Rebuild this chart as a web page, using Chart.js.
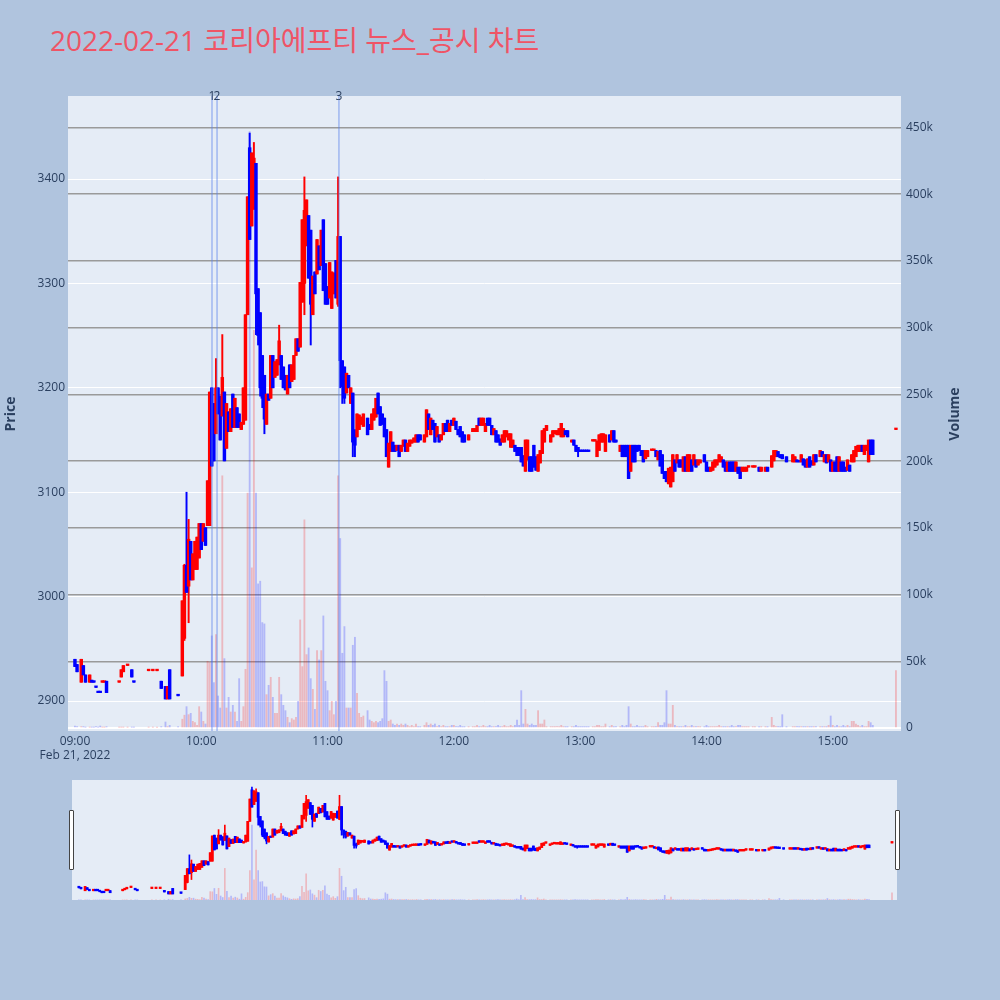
<!DOCTYPE html>
<html><head><meta charset="utf-8">
<script src="https://cdn.jsdelivr.net/npm/chart.js@4.4.1/dist/chart.umd.min.js"></script>
<style>
html,body{margin:0;padding:0;background:#B0C4DE;width:1000px;height:1000px;overflow:hidden;font-family:"Open Sans","Noto Sans CJK KR",sans-serif;}
#title{position:absolute;left:50px;top:22px;font-size:28px;line-height:36px;color:#EF5466;white-space:nowrap;}
#main{position:absolute;left:0;top:0;}
#slider{position:absolute;left:72px;top:780px;background:#E5ECF6;}
.ytitle{position:absolute;width:80px;height:20px;line-height:20px;text-align:center;font-size:14px;font-weight:bold;color:#2a3f5f;transform:rotate(-90deg);white-space:nowrap;}
.handle{position:absolute;width:3px;height:58px;background:#fff;border:1px solid #444;border-radius:1px;}
</style></head>
<body>
<div id="title">2022-02-21 코리아에프티 뉴스_공시 차트</div>
<canvas id="main" width="1000" height="800"></canvas>
<canvas id="slider" width="825" height="120"></canvas>
<div class="ytitle" style="left:-30px;top:404px;">Price</div>
<div class="ytitle" style="left:914px;top:404px;">Volume</div>
<div class="handle" style="left:69px;top:810px"></div>
<div class="handle" style="left:895px;top:810px"></div>
<script>
// minutes after 09:00
const minutes = [
 0,1,3,4,5,7,8,9,10,11,
 12,13,14,15,21,22,23,25,27,28,
 35,37,39,41,43,44,45,49,51,52,
 53,54,55,56,57,58,59,60,61,62,
 63,64,65,66,67,68,69,70,71,72,
 73,74,75,76,77,78,79,80,81,82,
 83,84,85,86,87,88,89,90,91,92,
 93,94,95,96,97,98,99,100,101,102,
 103,104,105,106,107,108,109,110,111,112,
 113,114,115,116,117,118,119,120,121,122,
 123,124,125,126,127,128,129,130,131,132,
 133,134,135,136,137,139,140,141,142,143,
 144,145,146,147,148,149,150,151,152,153,
 154,155,156,157,158,159,160,161,162,163,
 164,166,167,168,169,170,171,172,173,174,
 175,176,177,178,179,180,181,182,183,184,
 185,187,189,190,191,192,193,194,195,196,
 197,198,199,200,201,202,203,204,205,206,
 207,208,209,210,211,212,213,214,215,216,
 217,218,219,220,221,222,223,224,226,227,
 228,229,230,231,232,233,234,236,237,238,
 239,240,241,242,243,244,246,247,248,249,
 250,251,252,254,255,256,257,259,260,261,
 262,263,264,265,266,267,268,269,270,271,
 272,274,275,276,277,278,279,280,281,282,
 283,284,285,286,287,288,289,290,291,292,
 293,294,295,296,297,299,300,301,302,303,
 304,305,306,307,308,309,310,311,312,313,
 314,315,316,317,318,319,320,322,323,325,
 326,328,329,331,332,333,334,335,336,338,
 341,342,343,344,345,346,347,348,349,350,
 351,352,354,355,356,357,358,359,360,361,
 362,363,364,365,366,367,368,369,370,371,
 372,373,374,375,376,377,378,379,390
];
const opens = [
 2940,2935,2918,2934,2925,2918,2920,2918,2913,2908,
 2908,2918,2918,2919,2918,2923,2928,2934,2930,2918,
 2929,2929,2929,2919,2914,2902,2930,2906,2924,2960,
 3030,3010,3053,3016,3026,3026,3037,3070,3053,3066,
 3068,3068,3200,3185,3156,3200,3192,3173,3196,3142,
 3177,3158,3194,3162,3181,3175,3160,3165,3169,3270,
 3430,3355,3371,3415,3295,3272,3231,3212,3165,3194,
 3190,3231,3210,3212,3222,3231,3220,3212,3194,3222,
 3206,3208,3231,3247,3239,3282,3300,3336,3365,3351,
 3270,3311,3309,3336,3317,3361,3319,3297,3286,3276,
 3290,3322,3280,3345,3226,3220,3195,3212,3185,3195,
 3155,3153,3160,3165,3163,3171,3165,3160,3169,3172,
 3195,3182,3175,3171,3160,3124,3139,3148,3145,3140,
 3145,3139,3144,3150,3139,3144,3147,3148,3148,3155,
 3155,3148,3153,3175,3155,3169,3166,3153,3155,3150,
 3155,3166,3169,3158,3169,3164,3168,3160,3163,3158,
 3155,3150,3158,3158,3158,3171,3164,3164,3158,3171,
 3171,3164,3155,3159,3155,3151,3148,3148,3153,3150,
 3143,3143,3145,3143,3143,3143,3135,3120,3131,3134,
 3134,3145,3134,3120,3128,3137,3148,3159,3148,3153,
 3156,3155,3155,3153,3153,3159,3159,3148,3150,3145,
 3143,3139,3139,3139,3139,3139,3149,3149,3134,3140,
 3148,3148,3139,3155,3150,3159,3150,3139,3145,3145,
 3145,3145,3120,3145,3145,3145,3145,3140,3140,3132,
 3134,3140,3140,3140,3131,3140,3136,3120,3120,3108,
 3105,3110,3131,3128,3131,3131,3120,3134,3120,3120,
 3131,3126,3131,3126,3128,3136,3129,3124,3120,3121,
 3124,3126,3129,3129,3131,3129,3120,3129,3129,3129,
 3120,3124,3124,3120,3120,3120,3124,3124,3124,3124,
 3120,3120,3124,3124,3130,3134,3139,3136,3136,3134,
 3129,3129,3131,3130,3129,3132,3131,3124,3134,3130,
 3126,3136,3134,3139,3129,3136,3129,3131,3120,3129,
 3134,3120,3129,3129,3124,3121,3126,3129,3129,3134,
 3139,3139,3145,3136,3140,3129,3150,3150,3160
];
const highs = [
 2940,2935,2940,2934,2925,2925,2920,2918,2913,2908,
 2908,2918,2918,2919,2918,2930,2934,2934,2930,2918,
 2929,2929,2929,2919,2914,2914,2930,2906,2996,3031,
 3100,3074,3053,3041,3053,3057,3070,3070,3070,3066,
 3111,3196,3200,3185,3228,3200,3192,3251,3196,3185,
 3177,3180,3194,3190,3181,3175,3167,3200,3270,3383,
 3444,3425,3435,3415,3295,3272,3231,3212,3194,3194,
 3231,3231,3225,3227,3260,3231,3220,3212,3212,3222,
 3222,3231,3247,3247,3301,3361,3402,3380,3365,3351,
 3307,3311,3342,3336,3351,3361,3319,3297,3320,3311,
 3310,3322,3402,3345,3226,3220,3214,3212,3200,3195,
 3160,3175,3174,3172,3175,3171,3165,3175,3180,3190,
 3195,3182,3175,3171,3160,3147,3158,3148,3145,3145,
 3145,3145,3150,3150,3147,3150,3150,3152,3155,3155,
 3155,3155,3179,3175,3171,3169,3166,3163,3155,3155,
 3166,3166,3169,3166,3169,3171,3168,3160,3163,3158,
 3155,3155,3161,3161,3164,3171,3171,3171,3166,3171,
 3171,3164,3161,3159,3155,3151,3155,3159,3159,3156,
 3156,3150,3145,3143,3143,3143,3135,3150,3150,3134,
 3134,3145,3134,3136,3140,3159,3161,3164,3155,3159,
 3159,3159,3161,3166,3161,3159,3159,3150,3150,3145,
 3143,3139,3139,3139,3139,3139,3149,3149,3149,3155,
 3156,3156,3155,3155,3159,3159,3150,3145,3145,3145,
 3145,3145,3145,3145,3145,3145,3145,3140,3140,3140,
 3140,3140,3140,3140,3139,3140,3136,3120,3120,3123,
 3124,3136,3131,3136,3131,3131,3134,3134,3136,3136,
 3131,3136,3131,3131,3131,3136,3129,3124,3124,3129,
 3131,3131,3136,3134,3131,3129,3129,3129,3129,3129,
 3129,3124,3124,3124,3124,3124,3124,3124,3124,3124,
 3124,3124,3124,3135,3140,3140,3139,3136,3136,3134,
 3136,3134,3131,3130,3136,3132,3131,3132,3134,3130,
 3136,3136,3140,3139,3136,3136,3136,3131,3129,3129,
 3134,3134,3129,3129,3124,3131,3126,3136,3140,3144,
 3145,3145,3145,3145,3145,3150,3150,3150,3160
];
const lows = [
 2933,2928,2918,2925,2918,2918,2918,2918,2913,2908,
 2908,2918,2918,2908,2918,2923,2928,2934,2923,2918,
 2929,2929,2929,2912,2902,2902,2902,2905,2924,2958,
 3004,2975,3016,3016,3026,3026,3037,3045,3053,3049,
 3068,3068,3125,3130,3156,3175,3150,3173,3130,3142,
 3158,3158,3162,3162,3162,3162,3160,3165,3169,3270,
 3342,3355,3371,3251,3241,3192,3181,3156,3165,3188,
 3190,3200,3210,3212,3222,3208,3200,3198,3194,3200,
 3206,3208,3231,3235,3239,3282,3270,3336,3305,3241,
 3270,3290,3309,3313,3317,3293,3280,3280,3286,3276,
 3290,3286,3278,3200,3185,3185,3195,3200,3185,3134,
 3134,3153,3160,3165,3163,3155,3160,3160,3169,3172,
 3175,3164,3165,3153,3134,3124,3139,3139,3139,3140,
 3134,3139,3144,3139,3139,3144,3147,3148,3148,3148,
 3150,3148,3153,3160,3155,3160,3148,3153,3148,3150,
 3155,3158,3158,3158,3164,3164,3160,3155,3153,3148,
 3148,3150,3158,3158,3158,3164,3164,3164,3158,3164,
 3164,3155,3155,3148,3148,3145,3148,3148,3153,3150,
 3143,3143,3139,3135,3135,3129,3125,3120,3131,3120,
 3120,3124,3121,3120,3128,3137,3148,3159,3148,3153,
 3156,3155,3155,3153,3153,3155,3153,3148,3145,3139,
 3134,3139,3139,3139,3139,3139,3149,3149,3134,3140,
 3148,3148,3139,3148,3150,3148,3148,3139,3134,3134,
 3134,3113,3120,3129,3129,3139,3140,3135,3129,3132,
 3134,3140,3140,3134,3131,3125,3118,3113,3110,3108,
 3105,3110,3120,3128,3124,3124,3120,3120,3120,3120,
 3120,3126,3124,3126,3128,3129,3120,3120,3120,3121,
 3124,3126,3129,3129,3124,3120,3120,3120,3120,3120,
 3120,3118,3113,3120,3120,3120,3124,3124,3124,3120,
 3120,3120,3120,3124,3130,3134,3134,3133,3132,3129,
 3129,3129,3129,3129,3129,3126,3124,3124,3124,3126,
 3126,3129,3134,3134,3129,3128,3129,3120,3120,3120,
 3120,3120,3120,3120,3120,3121,3120,3129,3129,3134,
 3139,3139,3139,3136,3140,3129,3136,3136,3160
];
const closes = [
 2933,2928,2940,2925,2918,2925,2918,2918,2913,2908,
 2908,2918,2918,2908,2918,2930,2934,2934,2923,2918,
 2929,2929,2929,2912,2902,2914,2902,2905,2996,3030,
 3004,3055,3016,3041,3053,3057,3070,3045,3070,3049,
 3111,3196,3125,3130,3200,3175,3150,3210,3130,3185,
 3158,3180,3162,3190,3162,3162,3167,3200,3270,3383,
 3342,3425,3420,3290,3250,3200,3190,3170,3194,3188,
 3231,3200,3225,3227,3245,3208,3200,3198,3212,3200,
 3222,3231,3247,3235,3301,3361,3370,3380,3305,3280,
 3307,3290,3342,3313,3351,3293,3280,3280,3320,3311,
 3310,3286,3345,3226,3201,3190,3214,3200,3200,3148,
 3145,3175,3174,3172,3175,3155,3160,3175,3180,3190,
 3175,3164,3165,3153,3134,3147,3158,3139,3139,3145,
 3134,3145,3150,3139,3147,3150,3150,3152,3155,3148,
 3150,3155,3179,3160,3171,3160,3148,3163,3148,3155,
 3166,3158,3158,3166,3164,3171,3160,3155,3153,3148,
 3148,3155,3161,3161,3164,3164,3171,3171,3166,3164,
 3164,3155,3161,3148,3148,3145,3155,3159,3159,3156,
 3156,3150,3139,3135,3135,3129,3125,3150,3150,3120,
 3120,3124,3121,3136,3140,3159,3161,3164,3155,3159,
 3159,3159,3161,3166,3161,3155,3153,3150,3145,3139,
 3139,3139,3139,3139,3139,3139,3149,3149,3149,3155,
 3156,3156,3155,3148,3159,3148,3148,3145,3134,3134,
 3134,3113,3145,3129,3129,3139,3140,3135,3129,3140,
 3140,3140,3140,3134,3139,3125,3118,3113,3110,3123,
 3124,3136,3120,3136,3124,3124,3134,3120,3136,3136,
 3120,3136,3124,3131,3131,3129,3120,3120,3124,3129,
 3131,3131,3136,3134,3124,3120,3129,3120,3120,3120,
 3129,3118,3113,3124,3124,3124,3124,3124,3124,3120,
 3124,3124,3120,3135,3140,3140,3134,3133,3132,3129,
 3136,3134,3129,3129,3136,3126,3124,3132,3124,3126,
 3136,3129,3140,3134,3136,3128,3136,3120,3129,3120,
 3120,3134,3120,3120,3120,3131,3120,3136,3140,3144,
 3145,3145,3139,3145,3145,3150,3136,3136,3160
];
// volume in thousands of shares
const volumesK = [
 1.5,1,1,1,0.5,0.5,0.5,0.5,1,0.5,
 1.5,0.5,0.5,1,0.5,0.5,0.5,0.5,0.5,0.5,
 0.5,0.5,0.5,1,4.5,1,2,1,6.6,9.6,
 16,10,11,5,4,2,16,12,5,3,
 50,49,69,34,70,24,15,189,52,15,
 23,12,17,12,5,37,5,16,44,176,
 447,120,298,176,108,110,79,78,25,32,
 38,23,11,11,38,25,17,13,8,4,
 7,6,8,20,81,46,156,55,60,37,
 29,14,58,51,58,84,35,28,13,20,
 10,20,189,142,56,76,15,15,15,62,
 68,26,11,8,9,13,6,5,4,5,
 4,5,7,43,35,5,6,3,2,3,
 2,3,2,3,2,1,2,1,3,1,
 1,2,4,2,3,2,3,1,2,1,
 2,1,1,1,2,2,1,1,2,1,
 1,1,1,1,2,1,1,2,1,1,
 2,1,1,1,2,1,1,2,1,1,
 2,1,2,6,2,28,3,14,3,2,
 3,2,2,13,3,3,6,1,1,1,
 1,1,1,2,1,1,1,1,1,2,
 1,1,1,1,1,1,1,1,2,2,
 1,1,3,1,2,1,1,1,2,1,
 2,16,3,1,1,2,1,1,1,2,
 1,1,1,1,4,2,2,4,28,3,
 3,17,2,1,1,1,1,2,1,1,
 2,1,1,1,1,1,2,1,1,1,
 1,1,2,1,1,1,1,1,2,1,
 1,2,2,1,1,1,1,1,1,1,
 1,1,1,8,2,1,1,1,10,1,
 1,1,1,1,1,1,1,1,1,1,
 1,1,1,1,1,1,2,9,2,1,
 2,1,1,2,1,2,1,5,5,3,
 2,1,2,1,1,5,4,2,43
];
const hourTicks = [0,60,120,180,240,300,360];
const hourLabels = ['09:00','10:00','11:00','12:00','13:00','14:00','15:00'];
const dateLabel = 'Feb 21, 2022';
const priceTicks = [2900,3000,3100,3200,3300,3400];
const volumeTicks = [0,50000,100000,150000,200000,250000,300000,350000,400000,450000];
const newsMinutes = [65.1, 67.5, 125.4];
const newsLabels = ['1','2','3'];

// plotly-style direction: compare close/open, ties vs previous close, else keep direction
const dirs = [];
closes.forEach((c,i)=>{
  let d;
  if (c > opens[i]) d = 1; else if (c < opens[i]) d = -1;
  else if (i>0 && c !== closes[i-1]) d = c > closes[i-1] ? 1 : -1;
  else d = i>0 ? dirs[i-1] : -1;
  dirs.push(d);
});
const UP='#FF0000', DN='#0000FF';
const candleColors = dirs.map(d=> d>0?UP:DN);
const volColors = dirs.map(d=> d>0?'rgba(255,0,0,0.22)':'rgba(0,0,255,0.22)');
const bodyData = minutes.map((m,i)=>({x:m, y:[Math.min(opens[i],closes[i]), Math.max(opens[i],closes[i])]}));
const wickData = minutes.map((m,i)=>({x:m, y:[lows[i], highs[i]]}));
const volData = minutes.map((m,i)=>({x:m, y:volumesK[i]*1000}));

const X_MIN = -3.3, X_MAX = 392.4;
const P_MIN = 2871.3, P_MAX = 3479.5;
const FONT = {family:'"Open Sans", "Noto Sans CJK KR", sans-serif', size:12};
const TXT = '#2a3f5f';

function datasets(bodyW, wickW, volW){
  return [
    {data: bodyData, backgroundColor: candleColors, barThickness: bodyW, minBarLength: 1.6, yAxisID:'y', order:0, grouped:false},
    {data: wickData, backgroundColor: candleColors, barThickness: wickW, minBarLength: 1, yAxisID:'y', order:1, grouped:false},
    {data: volData, backgroundColor: volColors, barThickness: volW, yAxisID:'y2', order:2, grouped:false}
  ];
}

const bgPlugin = {
  id:'plotbg',
  beforeDraw(chart){
    const {ctx, chartArea:a} = chart;
    ctx.save(); ctx.fillStyle = '#E5ECF6';
    ctx.fillRect(a.left, a.top, a.right - a.left, a.bottom - a.top);
    ctx.restore();
  }
};

const newsPlugin = {
  id:'news',
  afterDatasetsDraw(chart){
    const {ctx, chartArea:a} = chart; const x = chart.scales.x;
    ctx.save();
    newsMinutes.forEach((m,i)=>{
      const px = x.getPixelForValue(m);
      ctx.strokeStyle = 'rgba(90,130,235,0.5)'; ctx.lineWidth = 1.5;
      ctx.beginPath(); ctx.moveTo(px, a.top); ctx.lineTo(px, a.bottom); ctx.stroke();
      ctx.fillStyle = TXT; ctx.font = '12px "Open Sans"'; ctx.textAlign='center'; ctx.textBaseline='middle';
      ctx.fillText(newsLabels[i], px, a.top + 1);
    });
    ctx.restore();
  }
};

new Chart(document.getElementById('main'), {
  type:'bar',
  data:{datasets: datasets(2.8, 1.3, 1.2)},
  options:{
    responsive:false, animation:false, events:[],
    layout:{padding:{top:96,left:0,right:0,bottom:0}},
    plugins:{legend:{display:false}, tooltip:{enabled:false}, title:{display:false}},
    scales:{
      x:{type:'linear', min:X_MIN, max:X_MAX, offset:false,
         grid:{display:false, drawTicks:false}, border:{display:false},
         ticks:{color:TXT, font:FONT, padding:3, maxRotation:0, autoSkip:false,
                callback:(v)=>{const i=hourTicks.indexOf(v); if(i<0) return ''; return i===0?[hourLabels[0], dateLabel]:hourLabels[i];}},
         afterBuildTicks:(ax)=>{ax.ticks = hourTicks.map(v=>({value:v}));},
         afterFit:(ax)=>{ax.height = 69;}},
      y:{position:'left', min:P_MIN, max:P_MAX,
         grid:{color:'#ffffff', lineWidth:1, drawTicks:false}, border:{display:false},
         ticks:{color:TXT, font:FONT, padding:3, callback:(v)=> String(v)},
         afterBuildTicks:(ax)=>{ax.ticks = priceTicks.map(v=>({value:v}));},
         afterFit:(ax)=>{ax.width = 68;}},
      y2:{position:'right', min:-2250, max:473600,
         grid:{color:(c)=> (c.tick && c.tick.value===0) ? '#ffffff' : '#9a9a9a', lineWidth:(c)=> (c.tick && c.tick.value===0) ? 2 : 1.5, drawTicks:false}, border:{display:false},
         ticks:{color:TXT, font:FONT, padding:5, callback:(v)=> v===0?'0':(v/1000)+'k'},
         afterBuildTicks:(ax)=>{ax.ticks = volumeTicks.map(v=>({value:v}));},
         afterFit:(ax)=>{ax.width = 99;}}
    }
  },
  plugins:[bgPlugin, newsPlugin]
});

new Chart(document.getElementById('slider'), {
  type:'bar',
  data:{datasets: datasets(2.2, 1, 1)},
  options:{
    responsive:false, animation:false, events:[],
    layout:{padding:0},
    plugins:{legend:{display:false}, tooltip:{enabled:false}},
    scales:{
      x:{type:'linear', display:false, min:X_MIN, max:X_MAX, offset:false},
      y:{display:false, min:P_MIN, max:P_MAX},
      y2:{display:false, min:0, max:717000}
    }
  }
});
</script>
</body></html>
